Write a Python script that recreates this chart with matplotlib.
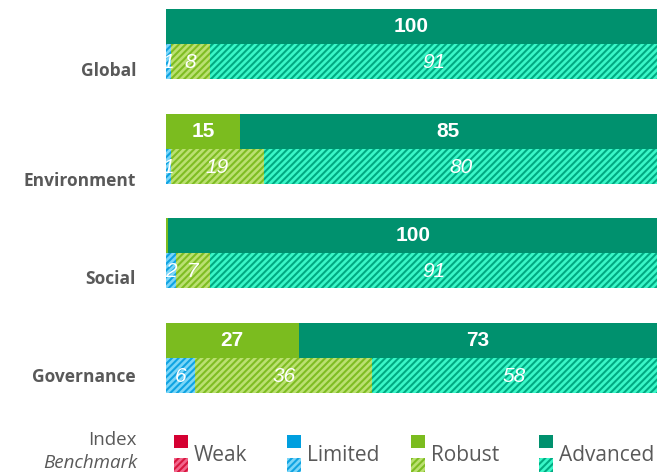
import matplotlib
matplotlib.use("Agg")
import matplotlib.pyplot as plt
from matplotlib.patches import Rectangle
import numpy as np

categories = ["Global", "Environment", "Social", "Governance"]
levels = ["Weak", "Limited", "Robust", "Advanced"]

# Index shares per level (Weak, Limited, Robust, Advanced)
index_vals = [
    [0, 0, 0, 100],
    [0, 0, 15, 85],
    [0, 0, 0.5, 99.5],
    [0, 0, 27, 73],
]
# Benchmark shares per level
bench_vals = [
    [0, 1, 8, 91],
    [0, 1, 19, 80],
    [0, 2, 7, 91],
    [0, 6, 36, 58],
]

solid_colors = ["#D50032", "#009FDF", "#7BBC1F", "#00916E"]
hatch_face = ["#D8173F", "#0FA3E2", "#7EBD22", "#00AA82"]
hatch_line = ["#F2668C", "#7AD6F8", "#BBE072", "#3AF7C8"]

plt.rcParams["hatch.linewidth"] = 1.9

W, H = 671, 473
fig = plt.figure(figsize=(W / 100, H / 100), dpi=100)
ax = fig.add_axes([166 / W, 1 - 393 / H, 491 / W, 384 / H])
ax.set_xlim(0, 100)
ax.set_ylim(10.5, -0.5)
ax.axis("off")

label_offsets = [1.28, 1.43, 1.24, 1.04]
HATCH = "/////"

for gi, cat in enumerate(categories):
    y_idx = gi * 3
    y_bm = gi * 3 + 1
    left = 0
    for li in range(4):
        v = index_vals[gi][li]
        if v > 0:
            ax.barh(y_idx, v, left=left, height=1.0, color=solid_colors[li],
                    edgecolor="none", linewidth=0)
            if v >= 1:
                ax.text(left + v / 2, y_idx, f"{round(v)}", ha="center", va="center",
                        color="white", fontsize=15, fontweight="bold",
                        family="Liberation Sans")
        left += v
    left = 0
    for li in range(4):
        v = bench_vals[gi][li]
        if v > 0:
            ax.barh(y_bm, v, left=left, height=1.0, color=hatch_face[li],
                    edgecolor=hatch_line[li], linewidth=0, hatch=HATCH)
            ax.text(left + v / 2, y_bm + 0.03, f"{round(v)}", ha="center", va="center",
                    color="white", fontsize=15, fontstyle="italic",
                    family="Liberation Sans")
        left += v
    ax.text(-30 / 491, y_idx + label_offsets[gi], cat, transform=ax.get_yaxis_transform(),
            ha="right", va="center", fontsize=12.5, fontweight="bold",
            color="#595959", family="Open Sans")

# Legend
def fx(px):
    return px / W

def fy(py):
    return 1 - py / H

fig.text(fx(137), fy(440), "Index", ha="right", va="center", fontsize=13.5,
         color="#595959", family="Open Sans")
fig.text(fx(137), fy(463), "Benchmark", ha="right", va="center", fontsize=13.5,
         color="#595959", family="Open Sans", fontstyle="italic")

sw_x = [174, 287, 411, 539]
for li, name in enumerate(levels):
    x0 = sw_x[li]
    fig.add_artist(Rectangle((fx(x0), fy(448)), 14 / W, 13 / H, transform=fig.transFigure,
                             facecolor=solid_colors[li], edgecolor="none", linewidth=0))
    fig.add_artist(Rectangle((fx(x0), fy(472)), 14 / W, 14 / H, transform=fig.transFigure,
                             facecolor=hatch_face[li], edgecolor=hatch_line[li],
                             linewidth=0, hatch=HATCH))
    fig.text(fx(x0 + 20), fy(455), name, ha="left", va="center", fontsize=15,
             color="#595959", family="Open Sans")

fig.savefig("out.png", dpi=100)
